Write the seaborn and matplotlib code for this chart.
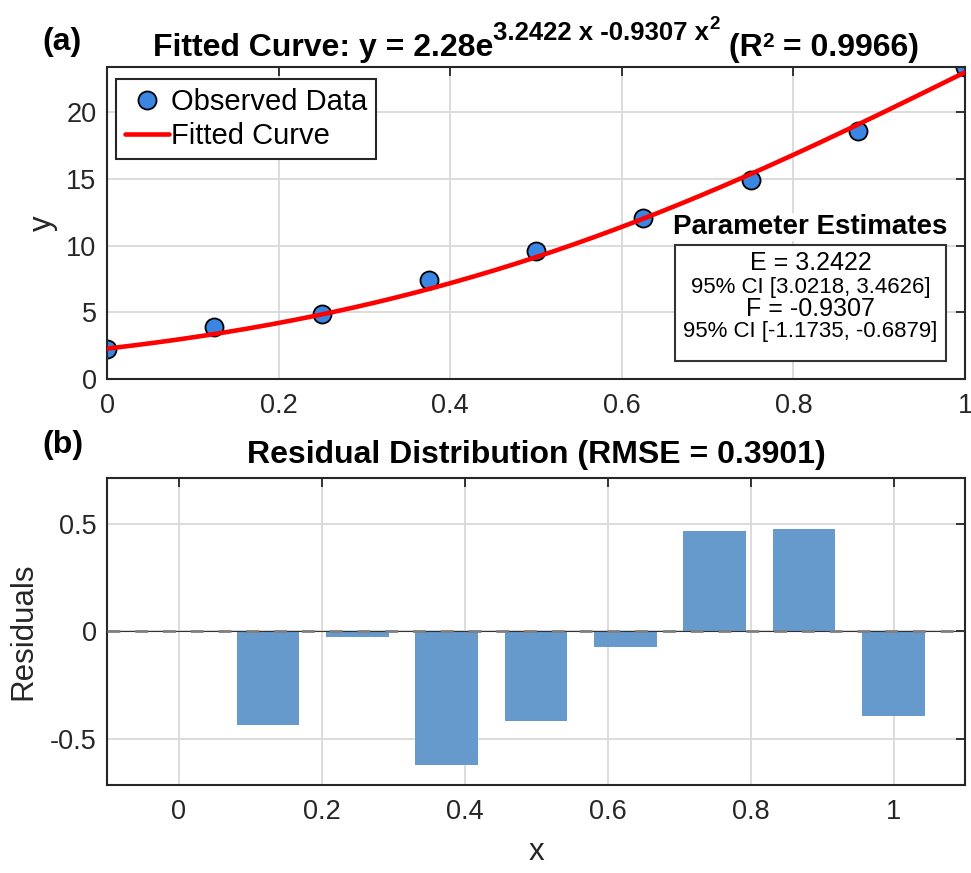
import numpy as np
import pandas as pd
import matplotlib
matplotlib.use("Agg")
import matplotlib.pyplot as plt
import seaborn as sns
from matplotlib.patches import Rectangle
from matplotlib.lines import Line2D
from matplotlib.ticker import FuncFormatter

# ---------------- data ----------------
x_obs = [0.0, 0.125, 0.25, 0.375, 0.5, 0.625, 0.75, 0.875, 1.0]
y_obs = [2.28, 3.90, 4.90, 7.40, 9.58, 12.10, 14.90, 18.60, 23.40]
residuals = [0.0, -0.438, -0.029, -0.622, -0.417, -0.073, 0.468, 0.477, -0.394]
A_par, E_par, F_par = 2.28, 3.2422, -0.9307
E_ci = (3.0218, 3.4626)
F_ci = (-1.1735, -0.6879)
r2_val = 0.9966
rmse_val = 0.3901
x_ticks = [0, 0.2, 0.4, 0.6, 0.8, 1.0]
y_ticks_top = [0, 5, 10, 15, 20]
y_ticks_res = [-0.5, 0, 0.5]

# ---------------- style ----------------
sns.set_theme(style="whitegrid")
plt.rcParams["font.family"] = ["Liberation Sans", "DejaVu Sans"]
plt.rcParams["axes.unicode_minus"] = False

W, H = 971, 873
fig = plt.figure(figsize=(W / 100, H / 100), dpi=100)
fig.patch.set_facecolor("white")


def fx(px):
    return px / W


def fy(py):
    return 1 - py / H


ax1 = fig.add_axes([fx(107), fy(379), (965 - 107) / W, (379 - 67) / H])
ax2 = fig.add_axes([fx(107), fy(785), (965 - 107) / W, (785 - 477.5) / H])

DARK = "#262626"
fmt = FuncFormatter(lambda v, p: f"{v:g}")


def style_ax(ax):
    for s in ax.spines.values():
        s.set_visible(True)
        s.set_color(DARK)
        s.set_linewidth(1.5)
    ax.set_facecolor("white")
    ax.grid(True, color="#d9d9d9", lw=1.3)
    ax.set_axisbelow(True)
    ax.tick_params(direction="in", length=6.5, width=1.3, top=True, right=True,
                   labelsize=19.5, colors=DARK, labelcolor=DARK)
    ax.tick_params(axis="x", pad=10)
    ax.tick_params(axis="y", pad=7.5)
    ax.xaxis.set_major_formatter(fmt)
    ax.yaxis.set_major_formatter(fmt)


# ---------------- top panel ----------------
blue = "#3a86e2"
df = pd.DataFrame({"x": x_obs, "y": y_obs})
sns.scatterplot(data=df, x="x", y="y", ax=ax1, s=13 ** 2, color=blue,
                edgecolor="black", linewidth=1.3, zorder=2, legend=False)
xf = np.linspace(0, 1, 300)
yf = A_par * np.exp(E_par * xf + F_par * xf ** 2)
sns.lineplot(x=xf, y=yf, ax=ax1, color="red", lw=3.3, zorder=3,
             legend=False, sort=False, errorbar=None)
style_ax(ax1)
ax1.set_xlim(0, 1)
ax1.set_ylim(0, max(y_obs))
ax1.set_xticks(x_ticks)
ax1.set_yticks(y_ticks_top)
ax1.set_xlabel("")
ax1.set_ylabel("y", fontsize=22.5, color=DARK)
ax1.yaxis.set_label_coords(-0.0571, 0.5)

handles = [
    Line2D([], [], ls="none", marker="o", ms=13, mfc=blue, mec="black", mew=1.3),
    Line2D([], [], color="red", lw=3.3),
]
leg = ax1.legend(handles, ["Observed Data", "Fitted Curve"], loc="upper left",
                 bbox_to_anchor=(9 / 858, 1 - 12 / 312), borderaxespad=0,
                 fontsize=21, frameon=True, fancybox=False, framealpha=1,
                 edgecolor=DARK, borderpad=0.3, labelspacing=0.22,
                 handlelength=1.5, handletextpad=0.1)
leg.get_frame().set_linewidth(1.5)
for t in leg.get_texts():
    t.set_color("black")

# parameter estimates annotation
fig.text(fx(810), fy(227), "Parameter Estimates", ha="center", va="center",
         fontsize=20, fontweight="bold", color="black", zorder=10,
         bbox=dict(facecolor="white", edgecolor="none", pad=1))
box = Rectangle((fx(675), fy(360.7)), (946 - 675) / W, (360.7 - 245) / H,
                transform=fig.transFigure, facecolor="white",
                edgecolor="#333333", lw=1.5, zorder=9)
fig.add_artist(box)
lines = [
    (f"E = {E_par:.4f}", 18, 263),
    (f"95% CI [{E_ci[0]:.4f}, {E_ci[1]:.4f}]", 16, 287.5),
    (f"F = {F_par:.4f}", 18, 309),
    (f"95% CI [{F_ci[0]:.4f}, {F_ci[1]:.4f}]", 16, 331.7),
]
for s, sz, yy in lines:
    fig.text(fx(810.5), fy(yy), s, ha="center", va="center", fontsize=sz,
             color="black", zorder=11)

# rich title for top panel
renderer = fig.canvas.get_renderer()
pieces = [
    ("Fitted Curve: y = 2.28e", 23, 0),
    (f"{E_par:.4f} x {F_par:.4f} x", 18.5, 15.7),
    ("2", 13.5, 27),
    (" (R", 23, 0),
    ("2", 15, 9),
    (f" = {r2_val:.4f})", 23, 0),
]
objs = []
total = 0
for s, sz, dy in pieces:
    t = fig.text(0, 0, s, fontsize=sz, fontweight="bold", color="black",
                 ha="left", va="baseline")
    w = t.get_window_extent(renderer=renderer).width
    objs.append((t, w, dy))
    total += w
xstart = 536 - total / 2
base = 55.7
cur = xstart
for t, w, dy in objs:
    t.set_position((fx(cur), fy(base - dy)))
    cur += w

fig.text(fx(42), fy(42), "(a)", ha="left", va="center", fontsize=23,
         fontweight="bold", color="black")

# ---------------- bottom panel ----------------
sns.barplot(x=x_obs, y=residuals, native_scale=True, width=0.7,
            color="#6699cc", saturation=1, linewidth=0, ax=ax2, zorder=2)
style_ax(ax2)
ax2.axhline(0, color="#333333", lw=0.8, zorder=3)
ax2.axhline(0, color="#808080", lw=2.0, ls=(0, (4.6, 5.4)), zorder=4)
lim = 1.15 * max(abs(r) for r in residuals)
ax2.set_xlim(-0.1, 1.1)
ax2.set_ylim(-lim, lim)
ax2.set_xticks(x_ticks)
ax2.set_yticks(y_ticks_res)
ax2.set_xlabel("x", fontsize=22.5, color=DARK)
ax2.set_ylabel("Residuals", fontsize=22.5, color=DARK)
ax2.yaxis.set_label_coords(-0.0800, 0.5)
ax2.xaxis.set_label_coords(0.5, -0.17)
fig.text(fx(536), fy(463.3), f"Residual Distribution (RMSE = {rmse_val:.4f})",
         ha="center", va="baseline", fontsize=23, fontweight="bold", color="black")
fig.text(fx(42), fy(445), "(b)", ha="left", va="center", fontsize=23,
         fontweight="bold", color="black")

fig.savefig("out.png", dpi=100, facecolor="white")
